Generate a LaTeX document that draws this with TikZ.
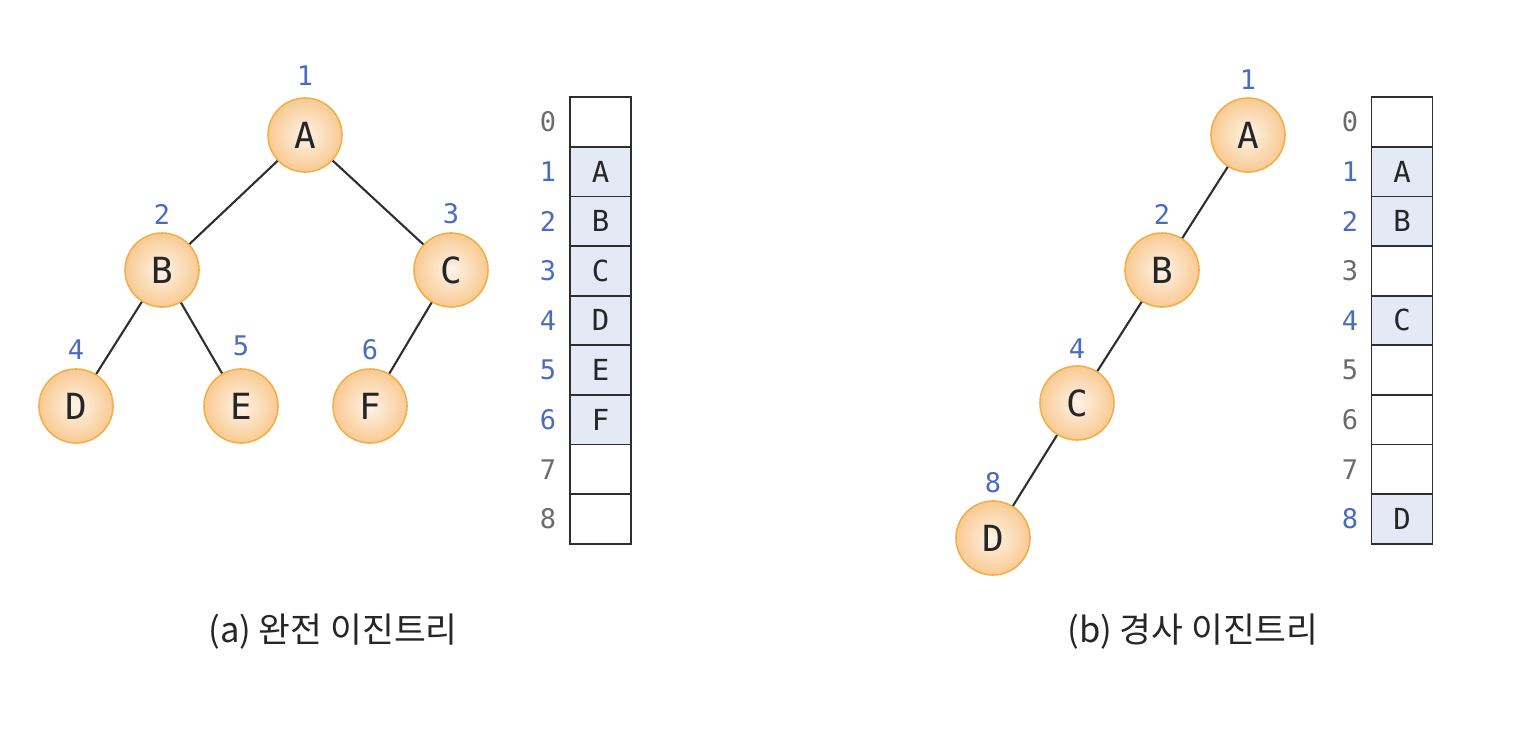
\documentclass[tikz,border=0pt]{standalone}
\usepackage{fontspec}
\setmonofont{DejaVu Sans Mono}
\newfontfamily\krfont{Noto Sans CJK KR}
\usetikzlibrary{positioning}

\definecolor{vtxedge}{HTML}{F0B04C}
\definecolor{vtxin}{HTML}{FEF3E8}
\definecolor{vtxout}{HTML}{F9CA92}
\definecolor{cellfill}{HTML}{E3E9F5}
\definecolor{idxblue}{HTML}{4A6CC0}
\definecolor{idxgray}{HTML}{6B6B6B}
\definecolor{linegray}{HTML}{2E2E2E}

\begin{document}
\begin{tikzpicture}[
    x=0.5pt, y=-0.5pt,
    vtx/.style={circle, draw=vtxedge, line width=0.8pt, inner color=vtxin, outer color=vtxout,
        minimum size=37pt, inner sep=0pt, text=black!85,
        font=\ttfamily\fontsize{18}{18}\selectfont},
    idx/.style={text=idxblue, inner sep=0pt, font=\ttfamily\fontsize{13.5}{13.5}\selectfont},
    cell/.style={draw=linegray, line width=0.9pt, minimum width=30.5pt, minimum height=24.8pt,
        inner sep=0pt, text=black!85, font=\ttfamily\fontsize{14.5}{14.5}\selectfont},
    cellused/.style={cell, fill=cellfill},
    cellfree/.style={cell, fill=white},
    idxused/.style={idx},
    idxfree/.style={idx, text=idxgray},
    edge/.style={draw=linegray, line width=1.05pt},
    caption/.style={inner sep=0pt, text=black!85, font=\krfont\fontsize{17.3}{17.3}\selectfont}
]
\useasboundingbox (0,0) rectangle (1528,729);

% (a) complete binary tree
\node[vtx] (a1) at (305,135) {A};
\node[vtx] (a2) at (162,270) {B};
\node[vtx] (a3) at (451,270) {C};
\node[vtx] (a4) at (76,406) {D};
\node[vtx] (a5) at (241,406) {E};
\node[vtx] (a6) at (370,406) {F};

\draw[edge] (a1) -- (a2);
\draw[edge] (a1) -- (a3);
\draw[edge] (a2) -- (a4);
\draw[edge] (a2) -- (a5);
\draw[edge] (a3) -- (a6);

\node[idx] (na1) at (305,76) {1};
\node[idx] (na2) at (162,214) {2};
\node[idx] (na3) at (451,214) {3};
\node[idx] (na4) at (76,350) {4};
\node[idx] (na5) at (241,346) {5};
\node[idx] (na6) at (370,350) {6};

\foreach \i/\v/\s in {0/{}/free, 1/A/used, 2/B/used, 3/C/used, 4/D/used,
                      5/E/used, 6/F/used, 7/{}/free, 8/{}/free} {
    \node[cell\s] (L\i) at (600.5,122+49.6*\i) {\v};
    \node[idx\s] (iL\i) at (548,122+49.6*\i) {\i};
}

\node[caption] (capa) at (333,632) {(a) 완전 이진트리};

% (b) skewed binary tree
\node[vtx] (b1) at (1248,135) {A};
\node[vtx] (b2) at (1162,270) {B};
\node[vtx] (b4) at (1077,403) {C};
\node[vtx] (b8) at (993,538) {D};

\draw[edge] (b1) -- (b2);
\draw[edge] (b2) -- (b4);
\draw[edge] (b4) -- (b8);

\node[idx] (nb1) at (1248,80) {1};
\node[idx] (nb2) at (1162,214) {2};
\node[idx] (nb4) at (1077,349) {4};
\node[idx] (nb8) at (993,483) {8};

\foreach \i/\v/\s in {0/{}/free, 1/A/used, 2/B/used, 3/{}/free, 4/C/used,
                      5/{}/free, 6/{}/free, 7/{}/free, 8/D/used} {
    \node[cell\s] (R\i) at (1402,122+49.6*\i) {\v};
    \node[idx\s] (iR\i) at (1350,122+49.6*\i) {\i};
}

\node[caption] (capb) at (1193,632) {(b) 경사 이진트리};

\end{tikzpicture}
\end{document}
